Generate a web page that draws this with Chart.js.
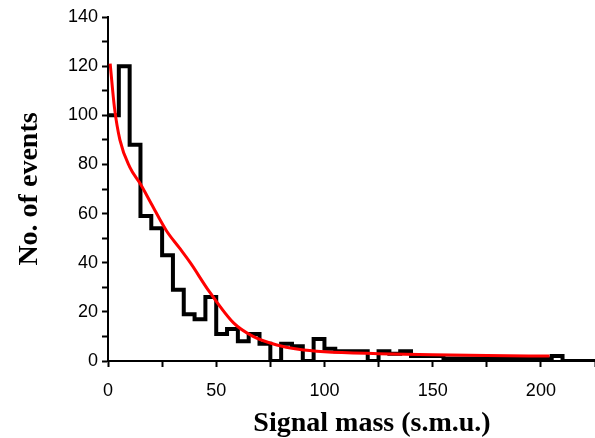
<!DOCTYPE html>
<html>
<head>
<meta charset="utf-8">
<script src="https://cdn.jsdelivr.net/npm/chart.js@4/dist/chart.umd.min.js"></script>
<style>
  body { margin: 0; background: #fff; }
  #wrap { width: 595px; height: 438px; }
</style>
</head>
<body>
<div id="wrap"><canvas id="hist" width="595" height="438"></canvas></div>
<script>
// histogram bins (left edge, s.m.u.) and counts
var binLeft = [0, 5, 10, 15, 20, 25, 30, 35, 40, 45, 50, 55, 60, 65, 70, 75, 80, 85, 90, 95,
  100, 105, 110, 115, 120, 125, 130, 135, 140, 145, 150, 155, 160, 165, 170, 175, 180, 185, 190, 195,
  200, 205, 210, 215, 220, 225];
var counts = [100, 120, 88, 59, 54, 43, 29, 19, 17, 26, 11, 13, 8, 11, 7, 0, 7, 6, 0, 9,
  5, 4, 4, 4, 0, 4, 3, 4, 2, 2, 2, 1, 1, 1, 1, 1, 1, 1, 1, 1,
  1, 2, 0, 0, 0, 0];

// fitted curve
var fitX = [1, 3, 5.5, 10, 15, 20, 27, 33, 38, 47, 58, 67, 78, 88, 100, 125, 150, 175, 204];
var fitY = [121, 103, 90, 79, 72, 64, 53, 46, 40, 28, 15.5, 10, 6.5, 4.8, 3.8, 3, 2.5, 2.2, 2];

var xLabels = [0, 50, 100, 150, 200];
var yLabels = [0, 20, 40, 60, 80, 100, 120, 140];

var histPts = [];
for (var i = 0; i < binLeft.length; i++) histPts.push({x: binLeft[i], y: counts[i]});
var fitPts = [];
for (var j = 0; j < fitX.length; j++) fitPts.push({x: fitX[j], y: fitY[j]});

var tickFont = {family: '"Liberation Sans", Arial, sans-serif', size: 18};

var titles = {
  id: 'titles',
  afterDraw: function(chart) {
    var ctx = chart.ctx;
    ctx.save();
    ctx.fillStyle = '#000';
    ctx.font = 'bold 28px "Liberation Serif", "Times New Roman", serif';
    ctx.textAlign = 'center';
    ctx.textBaseline = 'alphabetic';
    ctx.fillText('Signal mass (s.m.u.)', 372, 431);
    ctx.translate(37, 189);
    ctx.rotate(-Math.PI / 2);
    ctx.fillText('No. of events', 0, 0);
    ctx.restore();
  }
};

new Chart(document.getElementById('hist'), {
  type: 'line',
  data: {
    datasets: [
      {
        label: 'fit',
        data: fitPts,
        borderColor: '#ff0000',
        borderWidth: 3,
        pointRadius: 0,
        cubicInterpolationMode: 'monotone',
        fill: false,
        order: 0
      },
      {
        label: 'events',
        data: histPts,
        borderColor: '#000',
        borderWidth: 4,
        stepped: true,
        pointRadius: 0,
        borderJoinStyle: 'miter',
        fill: false,
        order: 1
      }
    ]
  },
  options: {
    responsive: false,
    animation: false,
    layout: {padding: {top: 17, right: 0, left: 0, bottom: 0}},
    plugins: {legend: {display: false}, tooltip: {enabled: false}},
    scales: {
      x: {
        type: 'linear',
        min: 0,
        max: 225,
        afterFit: function(s) { s.height = 77; s.paddingRight = 0; s.paddingLeft = 0; },
        border: {display: true, color: '#000', width: 2},
        grid: {drawOnChartArea: false, drawTicks: true, tickLength: 6, tickWidth: 2, tickColor: '#000'},
        ticks: {
          stepSize: 25,
          color: '#000',
          font: tickFont,
          padding: 13,
          maxRotation: 0,
          autoSkip: false,
          callback: function(v) { return xLabels.indexOf(v) >= 0 ? String(v) : ''; }
        }
      },
      y: {
        min: 0,
        max: 140,
        afterFit: function(s) { s.width = 108; },
        border: {display: true, color: '#000', width: 2},
        grid: {drawOnChartArea: false, drawTicks: true, tickLength: 6, tickWidth: 2, tickColor: '#000'},
        ticks: {
          stepSize: 10,
          color: '#000',
          font: tickFont,
          padding: 4,
          autoSkip: false,
          callback: function(v) { return yLabels.indexOf(v) >= 0 ? String(v) : ''; }
        }
      }
    }
  },
  plugins: [titles]
});
</script>
</body>
</html>
